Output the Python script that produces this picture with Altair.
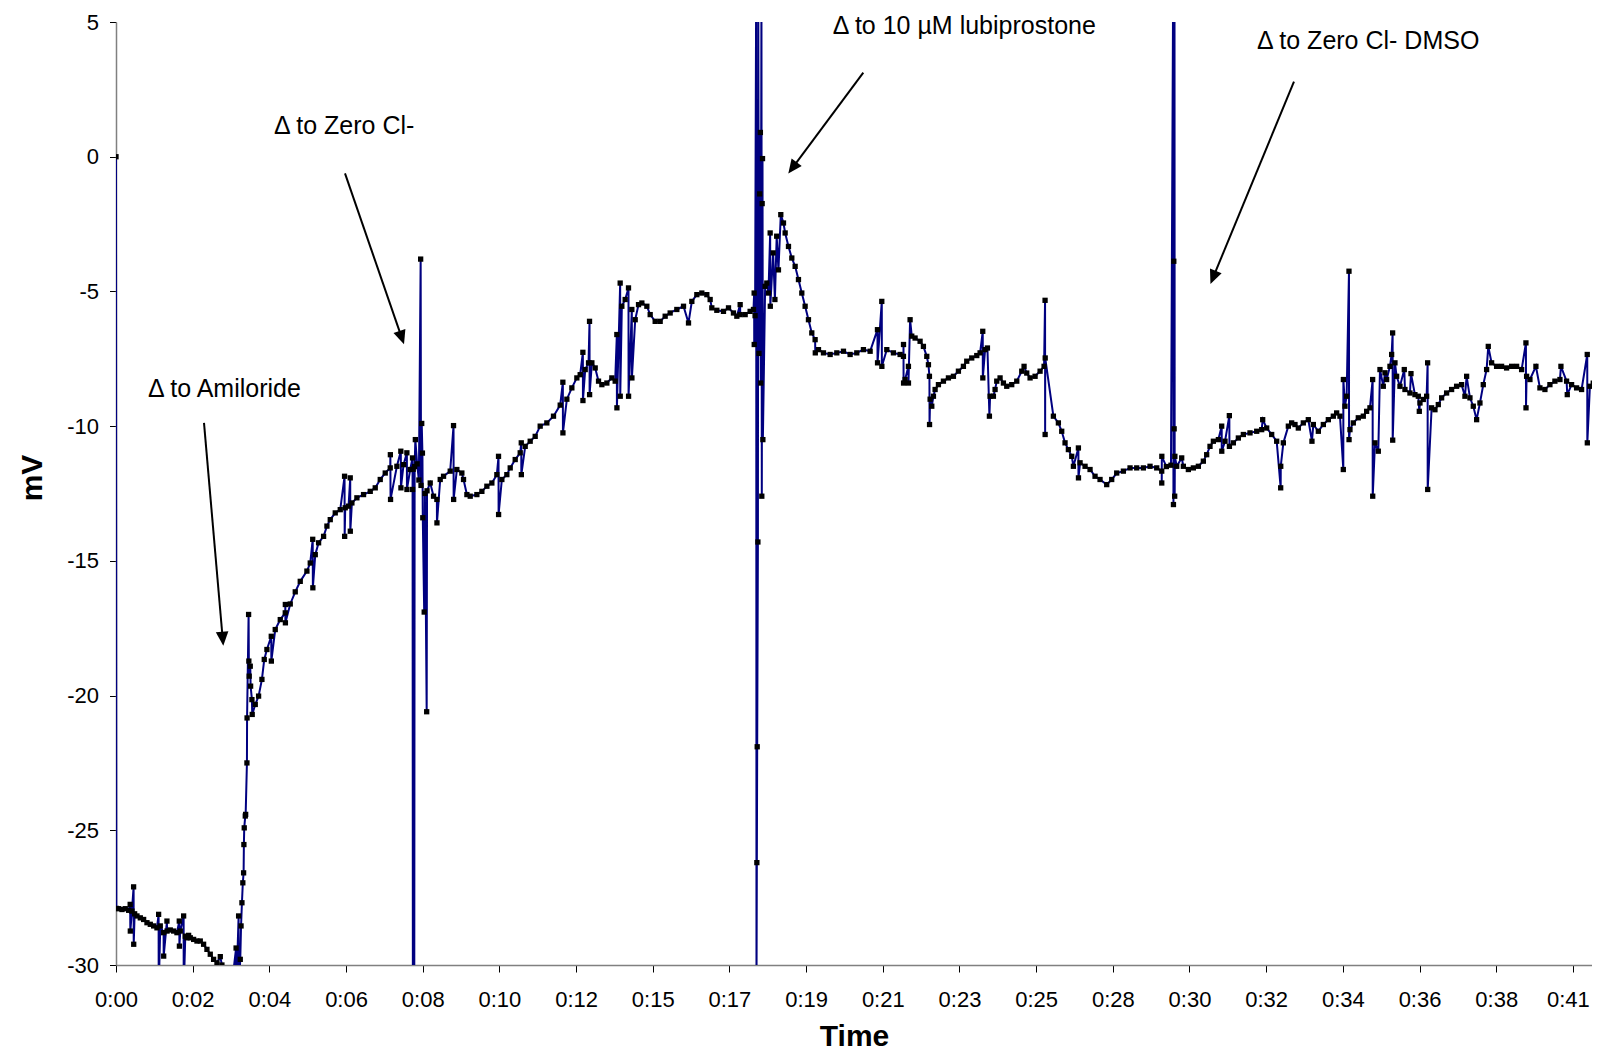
import math
import altair as alt
import pandas as pd

# ---- trace (time in minutes, potential in mV) ----
TIME_MIN = [
    0.000, 0.010, 0.074, 0.168, 0.262, 0.357, 0.400, 0.404, 0.450, 0.497, 0.500, 0.526,
    0.592, 0.686, 0.780, 0.874, 0.968, 1.062, 1.156, 1.203, 1.205, 1.250, 1.344, 1.346,
    1.438, 1.440, 1.532, 1.626, 1.720, 1.786, 1.790, 1.815, 1.909, 1.911, 1.956, 2.003,
    2.050, 2.097, 2.191, 2.285, 2.379, 2.473, 2.567, 2.661, 2.755, 2.850, 2.944, 2.990,
    3.100, 3.300, 3.390, 3.395, 3.461, 3.463, 3.508, 3.530, 3.555, 3.580, 3.602, 3.610,
    3.620, 3.649, 3.660, 3.696, 3.700, 3.743, 3.750, 3.760, 3.790, 3.800, 3.837, 3.845,
    3.931, 4.025, 4.119, 4.185, 4.260, 4.383, 4.385, 4.495, 4.637, 4.778, 4.780, 4.782,
    4.919, 5.060, 5.201, 5.389, 5.483, 5.553, 5.557, 5.625, 5.719, 5.860, 5.954, 6.048,
    6.189, 6.330, 6.452, 6.455, 6.471, 6.565, 6.612, 6.614, 6.659, 6.800, 6.988, 7.177,
    7.318, 7.459, 7.600, 7.741, 7.745, 7.750, 7.929, 8.040, 8.043, 8.117, 8.211, 8.213,
    8.305, 8.370, 8.372, 8.380, 8.390, 8.420, 8.430, 8.450, 8.500, 8.550, 8.600, 8.610,
    8.630, 8.650, 8.660, 8.700, 8.720, 8.770, 8.780, 8.870, 8.964, 9.058, 9.060, 9.152,
    9.246, 9.434, 9.528, 9.531, 9.622, 9.763, 9.810, 9.905, 9.999, 10.187, 10.328, 10.469,
    10.610, 10.751, 10.798, 10.800, 10.892, 11.033, 11.128, 11.269, 11.410, 11.440, 11.442, 11.551,
    11.692, 11.833, 11.974, 12.162, 12.350, 12.539, 12.614, 12.616, 12.727, 12.868, 13.009, 13.103,
    13.179, 13.181, 13.245, 13.339, 13.367, 13.369, 13.433, 13.527, 13.621, 13.715, 13.856, 13.997,
    14.091, 14.138, 14.140, 14.232, 14.234, 14.279, 14.373, 14.467, 14.469, 14.561, 14.563, 14.656,
    14.750, 14.844, 14.985, 15.079, 15.220, 15.361, 15.502, 15.643, 15.831, 16.020, 16.161, 16.255,
    16.396, 16.537, 16.678, 16.772, 16.819, 16.960, 17.148, 17.290, 17.430, 17.525, 17.619, 17.620,
    17.760, 17.900, 17.995, 18.014, 18.016, 18.040, 18.070, 18.080, 18.090, 18.100, 18.120, 18.130,
    18.150, 18.170, 18.190, 18.200, 18.220, 18.230, 18.240, 18.250, 18.260, 18.324, 18.371, 18.418,
    18.466, 18.470, 18.550, 18.600, 18.650, 18.700, 18.766, 18.842, 18.889, 18.983, 19.077, 19.171,
    19.265, 19.359, 19.453, 19.547, 19.641, 19.735, 19.740, 19.830, 19.971, 20.159, 20.347, 20.535,
    20.723, 20.911, 21.099, 21.288, 21.495, 21.497, 21.617, 21.619, 21.758, 21.946, 22.134, 22.228,
    22.230, 22.232, 22.275, 22.369, 22.370, 22.416, 22.463, 22.557, 22.698, 22.792, 22.887, 22.934,
    22.962, 22.965, 22.981, 23.028, 23.075, 23.122, 23.216, 23.357, 23.498, 23.639, 23.780, 23.921,
    24.015, 24.156, 24.298, 24.392, 24.467, 24.469, 24.533, 24.599, 24.655, 24.674, 24.768, 24.815,
    24.862, 24.956, 25.050, 25.144, 25.285, 25.427, 25.568, 25.633, 25.709, 25.803, 25.944, 26.085,
    26.198, 26.226, 26.228, 26.230, 26.461, 26.602, 26.696, 26.790, 26.884, 26.979, 27.026, 27.167,
    27.169, 27.214, 27.355, 27.496, 27.637, 27.778, 27.966, 28.107, 28.248, 28.437, 28.625, 28.813,
    29.001, 29.189, 29.378, 29.519, 29.520, 29.522, 29.650, 29.780, 29.840, 29.850, 29.860, 29.870,
    29.880, 29.885, 29.890, 29.942, 30.083, 30.130, 30.271, 30.412, 30.553, 30.694, 30.788, 30.882,
    30.977, 31.118, 31.212, 31.214, 31.306, 31.428, 31.430, 31.541, 31.682, 31.823, 32.011, 32.200,
    32.341, 32.369, 32.482, 32.623, 32.764, 32.877, 32.879, 32.952, 33.093, 33.187, 33.281, 33.375,
    33.516, 33.657, 33.760, 33.799, 33.940, 34.081, 34.222, 34.363, 34.457, 34.551, 34.645, 34.647,
    34.692, 34.739, 34.805, 34.807, 34.833, 34.927, 35.068, 35.209, 35.303, 35.397, 35.473, 35.475,
    35.539, 35.633, 35.680, 35.774, 35.821, 35.868, 35.962, 36.009, 36.037, 36.039, 36.103, 36.150,
    36.244, 36.366, 36.385, 36.526, 36.555, 36.667, 36.762, 36.790, 36.809, 36.903, 36.997, 37.025,
    37.027, 37.138, 37.232, 37.326, 37.420, 37.561, 37.702, 37.843, 37.984, 38.078, 38.126, 38.220,
    38.314, 38.408, 38.502, 38.596, 38.690, 38.737, 38.831, 38.972, 39.113, 39.254, 39.396, 39.537,
    39.678, 39.800, 39.802, 39.819, 39.913, 40.082, 40.195, 40.336, 40.477, 40.618, 40.760, 40.788,
    40.948, 40.967, 41.089, 41.230, 41.371, 41.531, 41.533, 41.606, 41.700, 41.794, 41.822, 41.850,
    41.870, 41.880,
]

MV = [
    0.00, -27.90, -27.91, -27.94, -27.91, -27.97, -27.75, -28.74, -28.00, -27.10, -29.23, -28.10,
    -28.18, -28.25, -28.31, -28.43, -28.49, -28.55, -28.62, -28.12, -31.00, -28.55, -28.80, -29.67,
    -28.37, -28.74, -28.70, -28.74, -28.80, -28.37, -29.30, -28.74, -28.18, -31.00, -28.93, -28.99,
    -28.90, -28.99, -29.05, -29.11, -29.11, -29.23, -29.42, -29.60, -29.79, -29.92, -29.69, -30.00,
    -30.40, -30.40, -29.37, -31.00, -28.18, -31.00, -29.79, -28.55, -27.69, -26.95, -26.58, -25.53,
    -24.91, -24.47, -24.41, -22.50, -20.83, -16.99, -18.72, -19.28, -18.91, -19.65, -20.15, -20.70,
    -20.33, -20.02, -19.40, -18.66, -18.29, -17.80, -18.72, -17.55, -17.18, -16.93, -16.62, -17.30,
    -16.60, -16.15, -15.76, -15.38, -15.08, -14.20, -16.00, -14.77, -14.33, -14.09, -13.71, -13.47,
    -13.22, -13.10, -11.86, -14.09, -13.03, -12.97, -11.92, -13.90, -12.85, -12.66, -12.54, -12.42,
    -12.29, -11.98, -11.74, -11.55, -11.06, -12.72, -11.49, -10.93, -12.29, -11.43, -10.99, -12.35,
    -11.61, -11.18, -12.35, -31.00, -11.60, -31.00, -11.50, -10.50, -11.40, -12.00, -3.80, -12.20,
    -9.90, -11.00, -13.40, -16.90, -12.50, -20.60, -12.40, -12.11, -12.60, -12.72, -13.59, -11.98,
    -11.86, -11.67, -9.98, -12.72, -11.61, -11.74, -11.98, -12.54, -12.60, -12.54, -12.42, -12.23,
    -12.11, -11.80, -11.12, -13.28, -11.98, -11.80, -11.55, -11.24, -10.99, -10.62, -11.80, -10.75,
    -10.56, -10.38, -10.00, -9.88, -9.63, -9.22, -8.37, -10.25, -9.00, -8.58, -8.21, -8.09,
    -7.26, -9.05, -7.90, -7.65, -6.11, -8.83, -7.65, -7.84, -8.33, -8.46, -8.40, -8.21,
    -8.33, -6.60, -9.32, -4.69, -8.89, -5.55, -5.30, -4.87, -8.89, -5.67, -8.21, -6.05,
    -5.49, -5.43, -5.55, -5.86, -6.11, -6.11, -5.92, -5.80, -5.67, -5.55, -6.17, -5.37,
    -5.12, -5.06, -5.12, -5.30, -5.61, -5.70, -5.74, -5.61, -5.80, -5.92, -5.49, -5.86,
    -5.86, -5.74, -5.67, -5.06, -6.97, -5.90, 6.00, -31.00, -26.20, -21.90, -14.30, 6.00,
    -7.30, -1.38, 0.90, -8.40, 6.00, -12.60, -1.74, -0.07, -10.50, -4.81, -4.69, -5.06,
    -2.83, -5.55, -3.57, -5.30, -2.95, -4.20, -2.15, -2.46, -2.83, -3.33, -3.76, -4.07,
    -4.56, -5.06, -5.55, -6.05, -6.54, -6.79, -7.28, -7.16, -7.28, -7.34, -7.28, -7.22,
    -7.34, -7.28, -7.16, -7.22, -6.42, -7.65, -5.37, -7.78, -7.16, -7.28, -7.34, -7.41,
    -6.97, -8.40, -8.27, -7.78, -8.40, -6.05, -6.66, -6.73, -6.85, -7.04, -7.41, -7.72,
    -8.15, -9.94, -9.00, -9.26, -8.89, -8.64, -8.46, -8.33, -8.21, -8.15, -7.96, -7.78,
    -7.59, -7.47, -7.38, -7.28, -6.48, -8.21, -7.16, -7.10, -9.63, -8.89, -8.89, -8.64,
    -8.33, -8.21, -8.40, -8.52, -8.46, -8.33, -7.96, -7.78, -8.03, -8.21, -8.15, -7.96,
    -7.78, -5.33, -10.31, -7.47, -9.63, -9.88, -10.19, -10.62, -10.87, -11.12, -11.49, -10.81,
    -11.92, -11.36, -11.49, -11.61, -11.86, -11.98, -12.17, -11.98, -11.74, -11.67, -11.55, -11.55,
    -11.55, -11.49, -11.55, -11.67, -12.11, -11.12, -11.50, -11.45, 6.00, -12.91, -3.88, -10.10,
    6.00, -12.60, -11.12, -11.49, -11.18, -11.49, -11.61, -11.55, -11.49, -11.30, -11.06, -10.75,
    -10.56, -10.50, -10.00, -10.93, -10.56, -9.61, -10.75, -10.62, -10.44, -10.31, -10.25, -10.19,
    -10.13, -9.76, -10.07, -10.31, -10.56, -12.29, -11.49, -10.62, -10.00, -9.88, -9.94, -10.07,
    -9.88, -9.76, -10.56, -9.94, -10.19, -9.94, -9.76, -9.63, -9.51, -9.63, -11.61, -8.27,
    -9.26, -8.89, -4.25, -10.50, -10.13, -9.88, -9.69, -9.63, -9.45, -9.32, -8.27, -12.60,
    -10.62, -10.93, -7.90, -8.52, -8.02, -8.27, -7.78, -7.34, -6.54, -10.52, -7.65, -8.15,
    -8.52, -7.90, -8.64, -8.77, -8.05, -8.83, -8.89, -9.45, -9.14, -9.01, -8.89, -7.65,
    -12.35, -9.32, -9.39, -9.20, -8.95, -8.77, -8.64, -8.52, -8.46, -8.89, -8.15, -8.95,
    -9.26, -9.76, -9.14, -8.46, -7.90, -7.04, -7.65, -7.78, -7.78, -7.84, -7.78, -7.78,
    -7.90, -6.91, -9.32, -8.15, -8.27, -7.78, -8.58, -8.64, -8.46, -8.33, -8.27, -7.78,
    -8.33, -8.83, -8.46, -8.58, -8.64, -7.34, -10.62, -8.52, -8.40, -8.52, -10.00, -8.40,
    -3.26, -31.00,
]

# ---- axis ticks ----
TICK_STEP = 2.1645  # minutes between category labels
TICK_LABELS = ["0:00", "0:02", "0:04", "0:06", "0:08", "0:10", "0:12", "0:15", "0:17", "0:19",
               "0:21", "0:23", "0:25", "0:28", "0:30", "0:32", "0:34", "0:36", "0:38", "0:41"]
Y_TICKS = [-30, -25, -20, -15, -10, -5, 0, 5]

# ---- annotations (data coordinates) ----
NOTE_TEXT = ["Δ to Amiloride", "Δ to Zero Cl-", "Δ to 10 µM lubiprostone", "Δ to Zero Cl- DMSO"]
NOTE_T = [0.903, 4.46, 20.23, 32.21]
NOTE_MV = [-8.62, 1.15, 4.85, 4.29]

ARROW_T0 = [2.484, 6.464, 21.095, 33.252]
ARROW_MV0 = [-9.88, -0.62, 3.12, 2.79]
ARROW_T1 = [3.029, 8.13, 18.978, 30.895]
ARROW_MV1 = [-18.15, -6.96, -0.62, -4.72]

X_MAX = 41.665   # visible end of the time axis
Y_MIN, Y_MAX = -30, 5
W, H = 1476, 943
FONT = "Liberation Sans"

assert len(TIME_MIN) == len(MV), (len(TIME_MIN), len(MV))

trace = pd.DataFrame({"t": TIME_MIN, "mv": MV, "idx": range(len(MV))})
notes = pd.DataFrame({"t": NOTE_T, "mv": NOTE_MV, "label": NOTE_TEXT})

sx = W / X_MAX
sy = H / (Y_MAX - Y_MIN)
rows = []
for t0, v0, t1, v1 in zip(ARROW_T0, ARROW_MV0, ARROW_T1, ARROW_MV1):
    dx = (t1 - t0) * sx
    dy = -(v1 - v0) * sy
    L = math.hypot(dx, dy)
    ang = math.degrees(math.atan2(dx, -dy)) % 360
    back = 7.0
    te = t1 - back * dx / L / sx
    ve = v1 + back * dy / L / sy
    rows.append({"t": t0, "mv": v0, "t2": te, "mv2": ve, "tt": t1, "vt": v1, "ang": ang})
arrows = pd.DataFrame(rows)

xscale = alt.Scale(domain=[0, X_MAX], nice=False, zero=False)
yscale = alt.Scale(domain=[Y_MIN, Y_MAX], nice=False, zero=False)

label_array = "[" + ",".join("'%s'" % s for s in TICK_LABELS) + "]"

xaxis = alt.Axis(
    values=[round(k * TICK_STEP, 4) for k in range(len(TICK_LABELS))],
    labelExpr=label_array + "[round(datum.value / %s)]" % TICK_STEP,
    grid=False, labelFlush=False, labelOverlap=False,
    labelOffset=alt.condition("datum.value > 41", alt.value(-5), alt.value(0)),
    tickSize=7, tickColor="#000000", tickWidth=1,
    domainColor="#808080", domainWidth=1.5,
    labelFont=FONT, labelFontSize=22, labelColor="#000000", labelPadding=17,
    titleFont=FONT, titleFontSize=30, titleFontWeight="bold", titleColor="#000000",
    titleY=80, titleBaseline="alphabetic",
)
yaxis = alt.Axis(
    values=Y_TICKS, grid=False, labelFlush=False,
    labelExpr="datum.value + ''",
    tickSize=6.5, tickColor="#000000", tickWidth=1,
    domainColor="#808080", domainWidth=1.5,
    labelFont=FONT, labelFontSize=22, labelColor="#000000", labelPadding=11,
    titleFont=FONT, titleFontSize=30, titleFontWeight="bold", titleColor="#000000",
    titleX=-84, titleY=455.5, titleAngle=270, titleAlign="center", titleBaseline="middle",
)

line = alt.Chart(trace).mark_line(color="#000080", strokeWidth=2, clip=True).encode(
    x=alt.X("t:Q", scale=xscale, axis=xaxis, title="Time"),
    y=alt.Y("mv:Q", scale=yscale, axis=yaxis, title="mV"),
    order=alt.Order("idx:Q"),
)

points = alt.Chart(trace).mark_point(
    shape="square", filled=True, color="#000000", size=28, opacity=1, clip=True
).encode(
    x=alt.X("t:Q", scale=xscale),
    y=alt.Y("mv:Q", scale=yscale),
)

arrow_lines = alt.Chart(arrows).mark_rule(color="#000000", strokeWidth=2).encode(
    x=alt.X("t:Q", scale=xscale),
    y=alt.Y("mv:Q", scale=yscale),
    x2="t2:Q",
    y2="mv2:Q",
)

arrow_heads = alt.Chart(arrows).mark_point(
    shape="M0,0L-0.45,1L0.45,1Z", filled=True, color="#000000", size=784, opacity=1
).encode(
    x=alt.X("tt:Q", scale=xscale),
    y=alt.Y("vt:Q", scale=yscale),
    angle=alt.Angle("ang:Q", scale=None),
)

texts = alt.Chart(notes).mark_text(
    align="left", baseline="middle", font=FONT, fontSize=25, color="#000000"
).encode(
    x=alt.X("t:Q", scale=xscale),
    y=alt.Y("mv:Q", scale=yscale),
    text="label:N",
)

chart = alt.layer(line, points, arrow_lines, arrow_heads, texts).properties(
    width=W,
    height=H,
    autosize=alt.AutoSizeParams(type="none"),
    padding={"left": 108, "top": 14, "right": 0, "bottom": 87},
    background="white",
).configure_view(stroke=None)

chart.save("out.html", embed_options={"renderer": "svg", "actions": False})
